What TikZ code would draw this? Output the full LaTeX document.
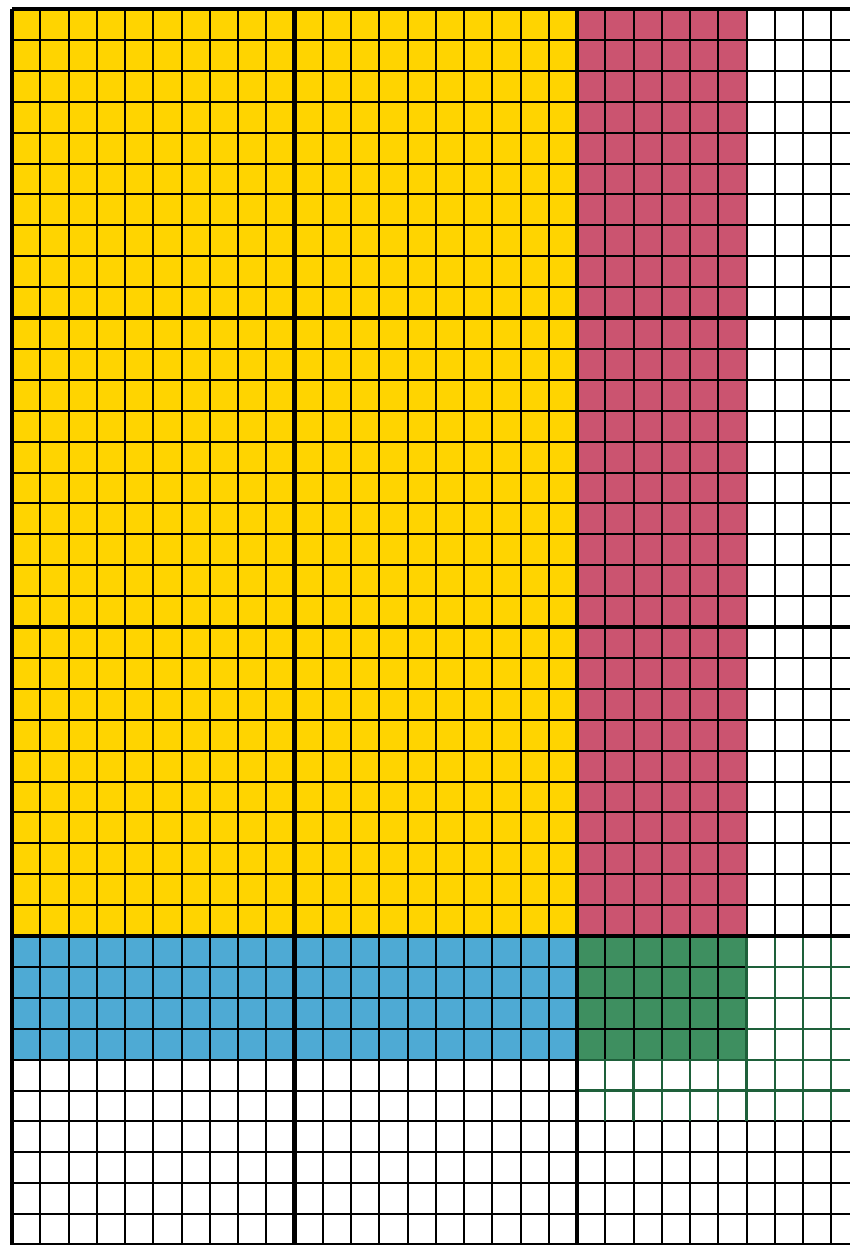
\documentclass[tikz,border=0pt]{standalone}
\usepackage{tikz}
\definecolor{gridyellow}{RGB}{255,212,0}
\definecolor{gridred}{RGB}{203,84,112}
\definecolor{gridblue}{RGB}{78,170,212}
\definecolor{gridgreen}{RGB}{62,143,96}
\definecolor{linegreen}{RGB}{30,96,58}
\tikzstyle{gridline} = [draw=black, line width=2pt]
\tikzstyle{majorline} = [draw=black, line width=4.4pt]
\tikzstyle{greenline} = [draw=linegreen, line width=2.2pt]

\begin{document}
\begin{tikzpicture}[x=28.25pt, y=-30.9pt]
    % Fix the page size
    \useasboundingbox (-12pt,9pt) rectangle (838pt,-1236pt);
    \clip (-12pt,9pt) rectangle (838pt,-1236pt);
    % Colour the blocks
    \fill [gridyellow] (0,0) rectangle (20,30);
    \fill [gridred] (20,0) rectangle (26,30);
    \fill [gridblue] (0,30) rectangle (20,34);
    \fill [gridgreen] (20,30) rectangle (26,34);
    % Draw the small squares
    \foreach \i in {1,...,30}
        \draw [gridline] (\i,0) -- (\i,40);
    \foreach \j in {1,...,39}
        \draw [gridline] (0,\j) -- (30,\j);
    % Green lines round the green block
    \foreach \i in {21,...,25}
        \draw [greenline] (\i,34) -- (\i,36);
    \foreach \i in {26,...,30}
        \draw [greenline] (\i,30) -- (\i,36);
    \foreach \j in {31,32,33}
        \draw [greenline] (26,\j) -- (30,\j);
    \foreach \j in {34,35}
        \draw [greenline] (20,\j) -- (30,\j);
    % Draw the thick lines
    \foreach \i in {0,10,20,30}
        \draw [majorline] (\i,0) -- (\i,40);
    \foreach \j in {0,10,20,30,40}
        \draw [majorline] (0,\j) -- (30,\j);
\end{tikzpicture}
\end{document}
